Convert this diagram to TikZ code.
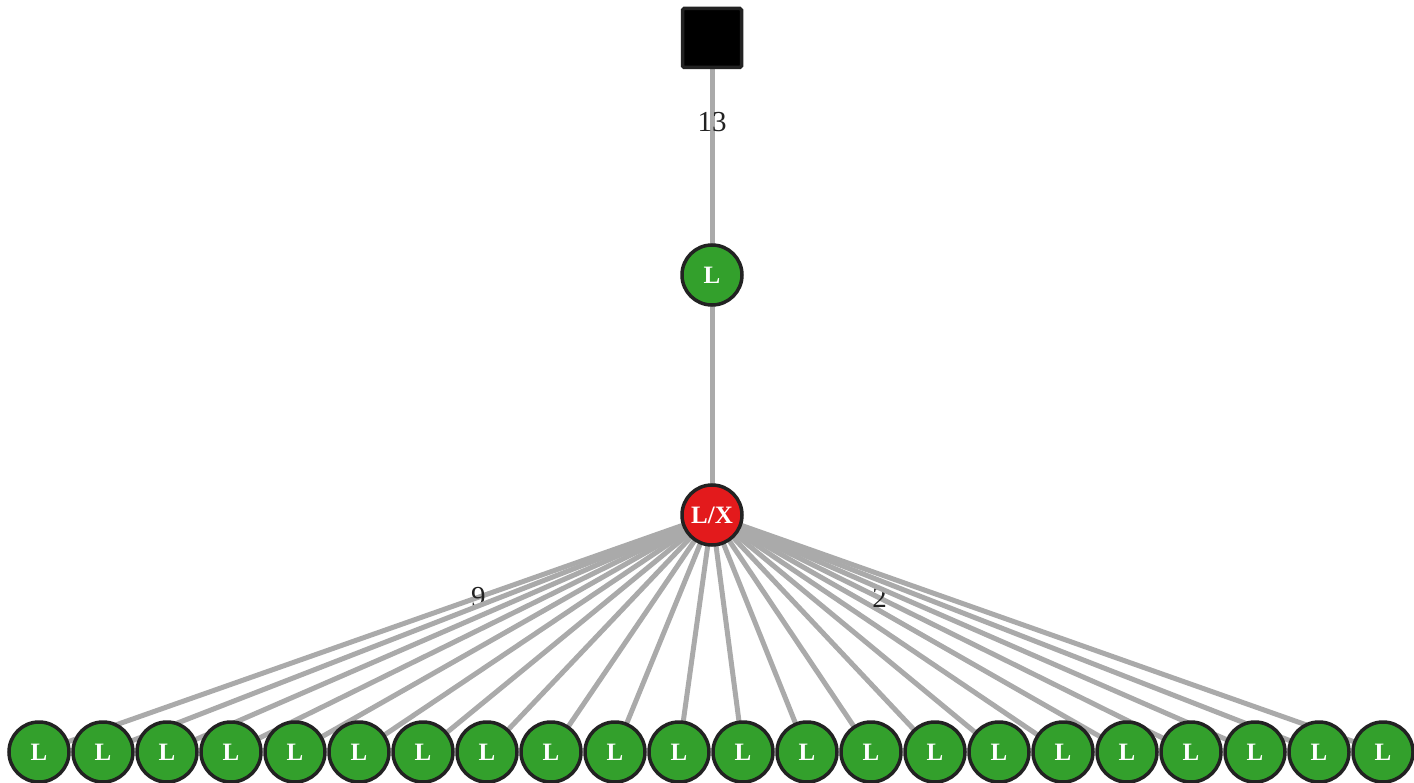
\documentclass[tikz,border=0pt]{standalone}
\usepackage{fontspec}
\setmainfont{Liberation Serif}
\usetikzlibrary{chains,backgrounds}
\definecolor{leafgreen}{HTML}{33A02C}
\definecolor{hubred}{HTML}{E31A1C}
\definecolor{edgegray}{HTML}{AAAAAA}
\definecolor{rimdark}{HTML}{222222}

\begin{document}
\begin{tikzpicture}[
  x=1pt, y=-1pt,
       start chain = going right,
     node distance = 4pt,
LeafStyle/.style={circle, draw=rimdark, line width=3.5pt, fill=leafgreen,
                minimum size=60pt, inner sep=0pt, outer sep=0pt,
                text=white, font=\fontsize{25}{25}\selectfont\bfseries},
HubStyle/.style={LeafStyle, fill=hubred},
RootStyle/.style={draw=rimdark, line width=3.5pt, fill=black, rounded corners=1.5pt,
                minimum size=59pt, inner sep=0pt, outer sep=0pt},
EdgeStyle/.style={draw=edgegray, line width=5pt},
LabelStyle/.style={text=rimdark, font=\fontsize{29}{29}\selectfont, inner sep=0pt},
  ]
\useasboundingbox (0,0) rectangle (1414,783);
\node [RootStyle] (root) at (712,38) {};
\node [LeafStyle] (top) at (712,275) {L};
\node [HubStyle] (hub) at (712,515) {L/X};
% bottom row
\node [LeafStyle, on chain] (b1) at (39,752) {L};
  \node [LeafStyle, on chain] (b2) {L};
  \node [LeafStyle, on chain] (b3) {L};
  \node [LeafStyle, on chain] (b4) {L};
  \node [LeafStyle, on chain] (b5) {L};
  \node [LeafStyle, on chain] (b6) {L};
  \node [LeafStyle, on chain] (b7) {L};
  \node [LeafStyle, on chain] (b8) {L};
  \node [LeafStyle, on chain] (b9) {L};
  \node [LeafStyle, on chain] (b10) {L};
  \node [LeafStyle, on chain] (b11) {L};
  \node [LeafStyle, on chain] (b12) {L};
  \node [LeafStyle, on chain] (b13) {L};
  \node [LeafStyle, on chain] (b14) {L};
  \node [LeafStyle, on chain] (b15) {L};
  \node [LeafStyle, on chain] (b16) {L};
  \node [LeafStyle, on chain] (b17) {L};
  \node [LeafStyle, on chain] (b18) {L};
  \node [LeafStyle, on chain] (b19) {L};
  \node [LeafStyle, on chain] (b20) {L};
  \node [LeafStyle, on chain] (b21) {L};
  \node [LeafStyle, on chain] (b22) {L};
\begin{pgfonlayer}{background}
\begin{scope}[EdgeStyle]
  \draw (root.center) -- node[LabelStyle, pos=0.355] (l13) {13} (top.center);
  \draw (top.center) -- (hub.center);
  \draw (hub.center) -- node[LabelStyle, pos=0.347] (l9) {9} (b1.center);
  \draw (hub.center) -- (b2.center);
  \draw (hub.center) -- (b3.center);
  \draw (hub.center) -- (b4.center);
  \draw (hub.center) -- (b5.center);
  \draw (hub.center) -- (b6.center);
  \draw (hub.center) -- (b7.center);
  \draw (hub.center) -- (b8.center);
  \draw (hub.center) -- (b9.center);
  \draw (hub.center) -- (b10.center);
  \draw (hub.center) -- (b11.center);
  \draw (hub.center) -- (b12.center);
  \draw (hub.center) -- (b13.center);
  \draw (hub.center) -- (b14.center);
  \draw (hub.center) -- (b15.center);
  \draw (hub.center) -- (b16.center);
  \draw (hub.center) -- (b17.center);
  \draw (hub.center) -- (b18.center);
  \draw (hub.center) -- node[LabelStyle, pos=0.35] (l2) {2} (b19.center);
  \draw (hub.center) -- (b20.center);
  \draw (hub.center) -- (b21.center);
  \draw (hub.center) -- (b22.center);
\end{scope}
\end{pgfonlayer}
\end{tikzpicture}
\end{document}
